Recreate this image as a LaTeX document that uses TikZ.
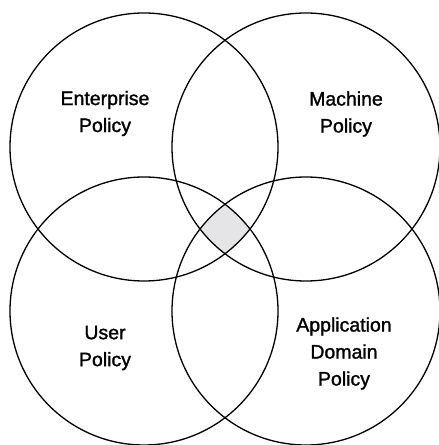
\documentclass[tikz,border=0pt]{standalone}
\usepackage{fontspec}
\setmainfont{Liberation Sans}
\newfontfamily\policyfont[FakeBold=1.4]{Liberation Sans}
\definecolor{overlapgray}{RGB}{229,229,231}
\tikzset{
    set/.style={line width=1.3pt},
    policy/.style={align=center, font=\policyfont\fontsize{19.5}{27}\selectfont}
}
\begin{document}
\begin{tikzpicture}[x=1pt,y=1pt]
        \clip (0,0) rectangle (439,445);
        % sets
            \foreach \n/\x/\y in {ent/144/298,mach/306/298,user/144/134,app/306/134}{
                \coordinate (\n) at (\x,\y);
            }
        % common part
            \begin{scope}
                \clip (ent) circle (134pt);
                \clip (mach) circle (134pt);
                \clip (user) circle (134pt);
                \fill[overlapgray] (app) circle (134pt);
            \end{scope}
            \foreach \n in {ent,mach,user,app}{
                \draw[set] (\n) circle (134pt);
            }
        % labels
            \node[policy] (entlabel) at (105,331.5) {Enterprise\\Policy};
            \node[policy] (machlabel) at (346,331) {Machine\\Policy};
            \node[policy] (userlabel) at (105,97) {User\\Policy};
            \node[policy] (applabel) at (344,91.5) {Application\\Domain\\Policy};
        \end{tikzpicture}
\end{document}
